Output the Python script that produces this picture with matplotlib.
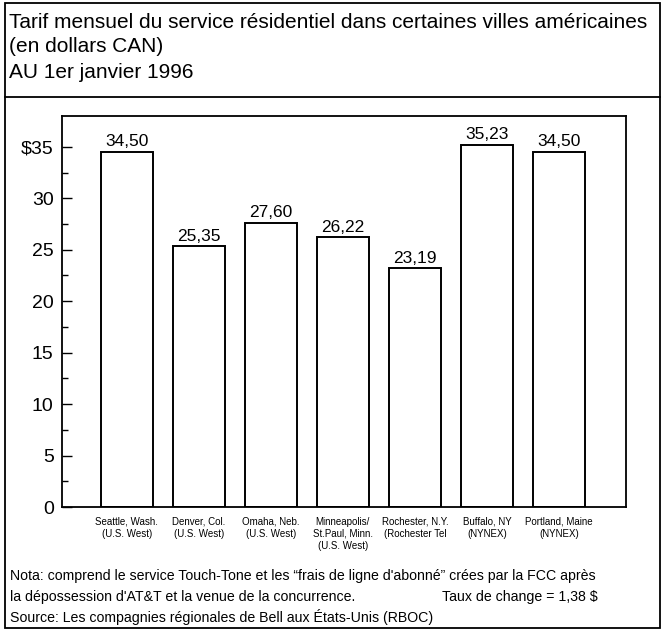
import matplotlib
matplotlib.use("Agg")
import matplotlib.pyplot as plt
from matplotlib.patches import Rectangle
from matplotlib.lines import Line2D

cities = ["Seattle, Wash.\n(U.S. West)", "Denver, Col.\n(U.S. West)", "Omaha, Neb.\n(U.S. West)",
          "Minneapolis/\nSt.Paul, Minn.\n(U.S. West)", "Rochester, N.Y.\n(Rochester Tel",
          "Buffalo, NY\n(NYNEX)", "Portland, Maine\n(NYNEX)"]
tarifs = [34.50, 25.35, 27.60, 26.22, 23.19, 35.23, 34.50]
value_labels = ["34,50", "25,35", "27,60", "26,22", "23,19", "35,23", "34,50"]
ytick_values = [0, 5, 10, 15, 20, 25, 30, 35]
ytick_labels = ["0", "5", "10", "15", "20", "25", "30", "$35"]

plt.rcParams['font.family'] = ['Liberation Sans Narrow', 'Liberation Sans', 'DejaVu Sans']

W, H = 664, 632
fig = plt.figure(figsize=(W / 100, H / 100), dpi=100)

def fx(px):
    return px / W

def fy(py):
    return 1 - py / H

# outer frame and separator
fig.add_artist(Rectangle((fx(5), fy(628)), fx(660) - fx(5), fy(3) - fy(628),
                         transform=fig.transFigure, fill=False, ec='black', lw=1.3))
fig.add_artist(Line2D([fx(5), fx(660)], [fy(97), fy(97)], transform=fig.transFigure,
                      color='black', lw=1.3))

# titles
fig.text(fx(9), fy(22), "Tarif mensuel du service résidentiel dans certaines villes américaines",
         fontsize=15, va='center', ha='left')
fig.text(fx(9), fy(47), "(en dollars CAN)", fontsize=15, va='center', ha='left')
fig.text(fx(9), fy(72), "AU 1er janvier 1996", fontsize=15, va='center', ha='left')

# axes
left, right, top, bottom = 62, 626, 116, 507
ax = fig.add_axes([fx(left), fy(bottom), (right - left) / W, (bottom - top) / H])
x = list(range(len(tarifs)))
ax.bar(x, tarifs, width=0.72, color='white', edgecolor='black', linewidth=1.4)
for xi, v, lab in zip(x, tarifs, value_labels):
    ax.text(xi, v + 0.25, lab, ha='center', va='bottom', fontsize=12.5)

ax.set_xlim(-0.9, 6.93)
ax.set_ylim(0, 38)
ax.set_yticks(ytick_values)
ax.set_yticklabels(ytick_labels, fontsize=14)
ax.set_yticks([2.5 + 5 * k for k in range(7)], minor=True)
ax.tick_params(axis='y', which='major', direction='in', length=7, width=1, pad=6)
ax.tick_params(axis='y', which='minor', direction='in', length=4, width=1)
ax.set_xticks(x)
ax.set_xticklabels(cities, fontsize=7, linespacing=1.25)
ax.tick_params(axis='x', length=0, pad=7)
for s in ax.spines.values():
    s.set_linewidth(1.3)

# notes
fig.text(fx(10), fy(576), "Nota: comprend le service Touch-Tone et les “frais de ligne d'abonné” crées par la FCC après",
         fontsize=10.2, va='center', ha='left')
fig.text(fx(10), fy(597), "la dépossession d'AT&T et la venue de la concurrence.",
         fontsize=10.2, va='center', ha='left')
fig.text(fx(598), fy(597), "Taux de change = 1,38 $", fontsize=10.2, va='center', ha='right')
fig.text(fx(10), fy(617), "Source: Les compagnies régionales de Bell aux États-Unis (RBOC)",
         fontsize=10.2, va='center', ha='left')

fig.savefig("out.png", dpi=100)
